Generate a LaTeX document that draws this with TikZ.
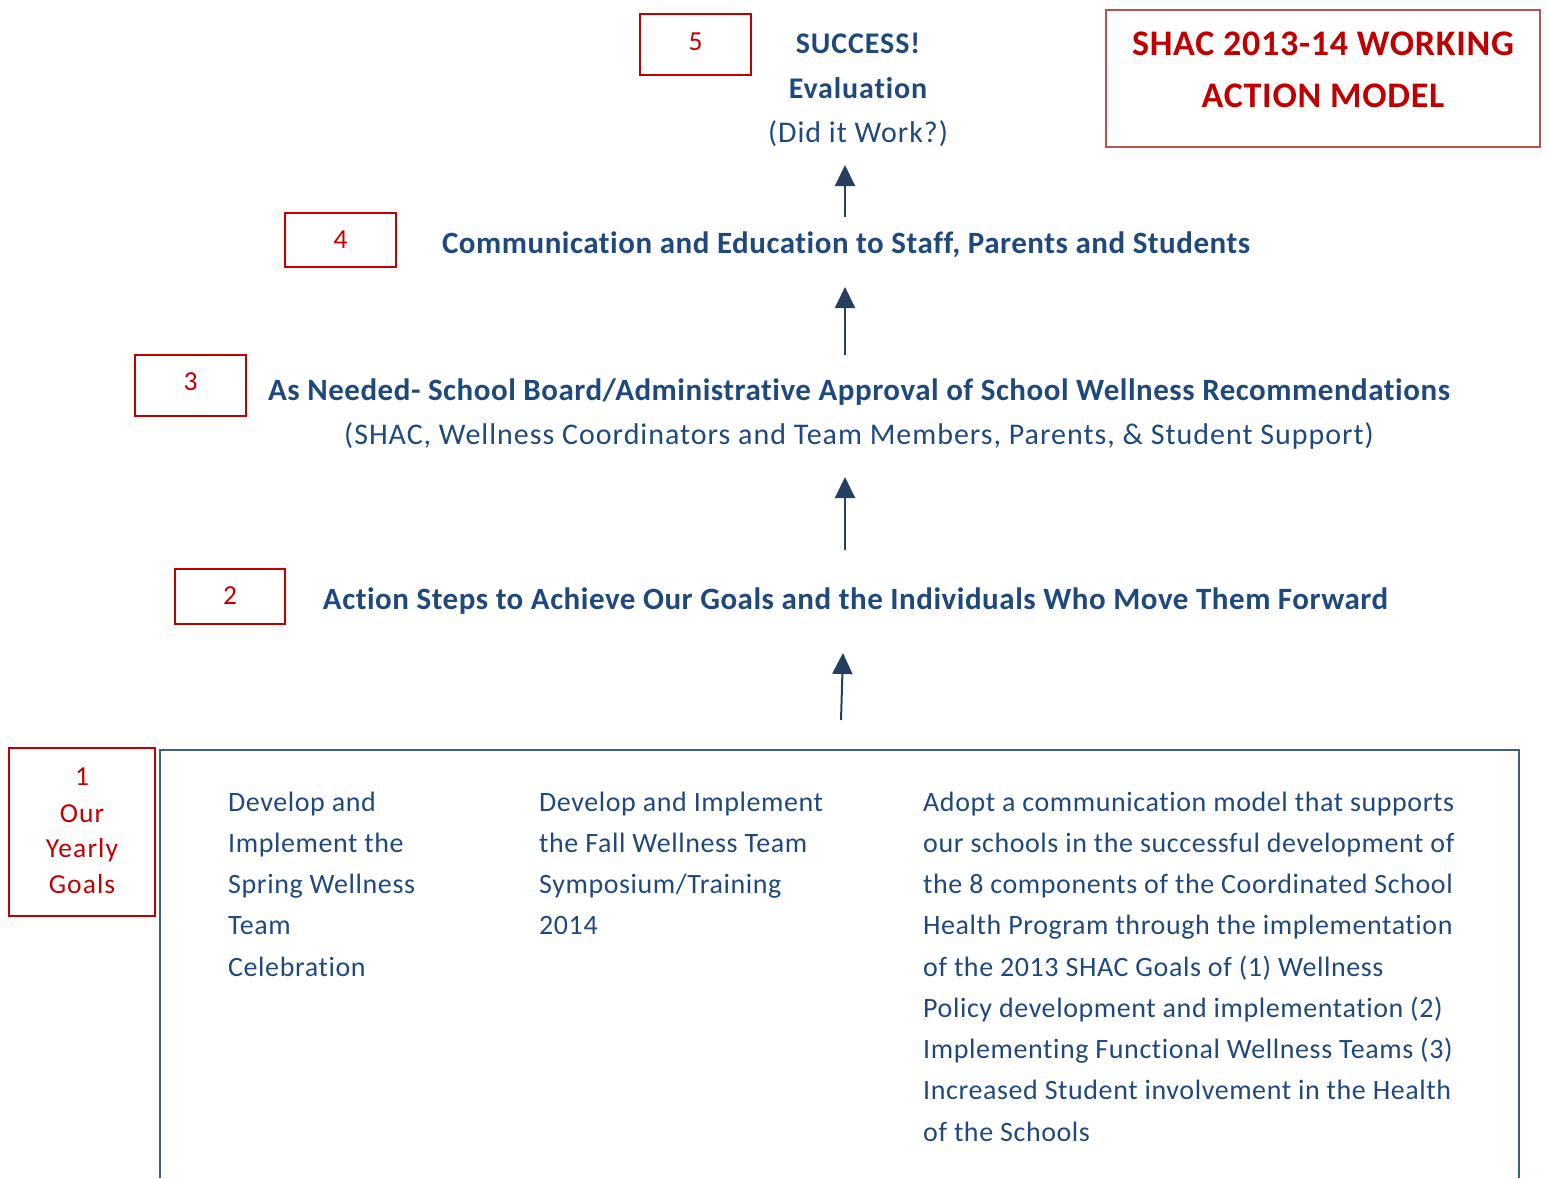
\documentclass[tikz,border=0pt]{standalone}
\usepackage{fontspec}
\setmainfont{Carlito}[Ligatures=NoCommon]
\usetikzlibrary{arrows.meta}
\definecolor{tblue}{HTML}{1F497D}
\definecolor{nred}{HTML}{C00000}
\definecolor{tred}{HTML}{C0504D}
\definecolor{bblue}{HTML}{3A5F8E}
\definecolor{ablue}{HTML}{243F60}
\tikzset{
  numbox/.style={draw=nred, line width=2pt, minimum width=111pt, inner sep=0pt},
  numtxt/.style={text=nred, font=\fontsize{27.5}{32}\selectfont\addfontfeature{LetterSpace=4}, anchor=base, inner sep=0pt},
  head/.style={text=tblue, font=\bfseries\fontsize{31}{36}\selectfont\addfontfeature{LetterSpace=1.7}, anchor=base, inner sep=0pt},
  shead/.style={text=tblue, font=\bfseries\fontsize{30}{36}\selectfont\addfontfeature{LetterSpace=3}, anchor=base, inner sep=0pt},
  plain/.style={text=tblue, font=\fontsize{30}{36}\selectfont\addfontfeature{LetterSpace=3.3}, anchor=base, inner sep=0pt},
  coltxt/.style={text=tblue, font=\fontsize{28}{34}\selectfont\addfontfeature{LetterSpace=2.1}, anchor=base west, inner sep=0pt},
  titletxt/.style={text=nred, font=\bfseries\fontsize{36}{40}\selectfont\addfontfeature{LetterSpace=2}, anchor=base, inner sep=0pt},
  upar/.style={draw=ablue, line width=2pt, -{Triangle[width=20pt,length=21pt]}},
}
\begin{document}
\begin{tikzpicture}[x=1pt,y=-1pt]
\useasboundingbox (0,0) rectangle (1549,1178);
% title box
\node[draw=tred, line width=2pt, minimum width=434pt, minimum height=137pt] (title) at (1323,78.5) {};
\node[titletxt] (t1) at (1323,55.5) {SHAC 2013-14 WORKING};
\node[titletxt] (t2) at (1323,107.5) {ACTION MODEL};
% number boxes
\node[numbox, minimum height=61pt] (b5) at (695.5,44.5) {};
\node[numtxt] (n5) at (695.5,50.5) {5};
\node[numbox, minimum height=54pt] (b4) at (340.5,240) {};
\node[numtxt] (n4) at (340.5,248.5) {4};
\node[numbox, minimum height=61pt] (b3) at (190.5,385.5) {};
\node[numtxt] (n3) at (190.5,390.5) {3};
\node[numbox, minimum width=110pt, minimum height=55pt] (b2) at (230,596.5) {};
\node[numtxt] (n2) at (230,604.5) {2};
\node[numbox, minimum width=146pt, minimum height=168pt] (b1) at (82,832) {};
\node[numtxt] (n1) at (82,785.5) {1};
\node[numtxt] (n1a) at (82,822) {Our};
\node[numtxt] (n1b) at (82,857) {Yearly};
\node[numtxt] (n1c) at (82,893) {Goals};
% level texts
\node[shead] (s5a) at (858,53.5) {SUCCESS!};
\node[shead] (s5b) at (858,98.5) {Evaluation};
\node[plain] (s5c) at (858,142.5) {(Did it Work?)};
\node[head] (s4) at (846,253) {Communication and Education to Staff, Parents and Students};
\node[head] (s3a) at (859,400) {As Needed- School Board/Administrative Approval of School Wellness Recommendations};
\node[plain] (s3b) at (859,444.5) {(SHAC, Wellness Coordinators and Team Members, Parents, \& Student Support)};
\node[head] (s2) at (855.5,609) {Action Steps to Achieve Our Goals and the Individuals Who Move Them Forward};
% arrows
\coordinate (a4s) at (845,217); \coordinate (a4e) at (845,165);
\coordinate (a3s) at (845,355); \coordinate (a3e) at (845,287);
\coordinate (a2s) at (845,550); \coordinate (a2e) at (845,477);
\coordinate (a1s) at (841,720); \coordinate (a1e) at (843,653);
\draw[upar] (a4s) -- (a4e);
\draw[upar] (a3s) -- (a3e);
\draw[upar] (a2s) -- (a2e);
\draw[upar] (a1s) -- (a1e);
% goals box (open at bottom)
\coordinate (gbl) at (160,1178); \coordinate (gtl) at (160,750);
\coordinate (gtr) at (1519,750); \coordinate (gbr) at (1519,1178);
\draw[bblue, line width=2pt] (gbl) -- (gtl) -- (gtr) -- (gbr);
% columns
\foreach \t [count=\i] in {Develop and, Implement the, Spring Wellness, Team, Celebration}
  \node[coltxt] (c1-\i) at (228,{811+41.25*(\i-1)}) {\t};
\foreach \t [count=\i] in {Develop and Implement, the Fall Wellness Team, Symposium/Training, 2014}
  \node[coltxt] (c2-\i) at (539,{811+41.25*(\i-1)}) {\t};
\foreach \t [count=\i] in {Adopt a communication model that supports, our schools in the successful development of, the 8 components of the Coordinated School, Health Program through the implementation, of the 2013 SHAC Goals of (1) Wellness, Policy development and implementation (2), Implementing Functional Wellness Teams (3), Increased Student involvement in the Health, of the Schools}
  \node[coltxt] (c3-\i) at (923,{811+41.25*(\i-1)}) {\t};
\end{tikzpicture}
\end{document}
